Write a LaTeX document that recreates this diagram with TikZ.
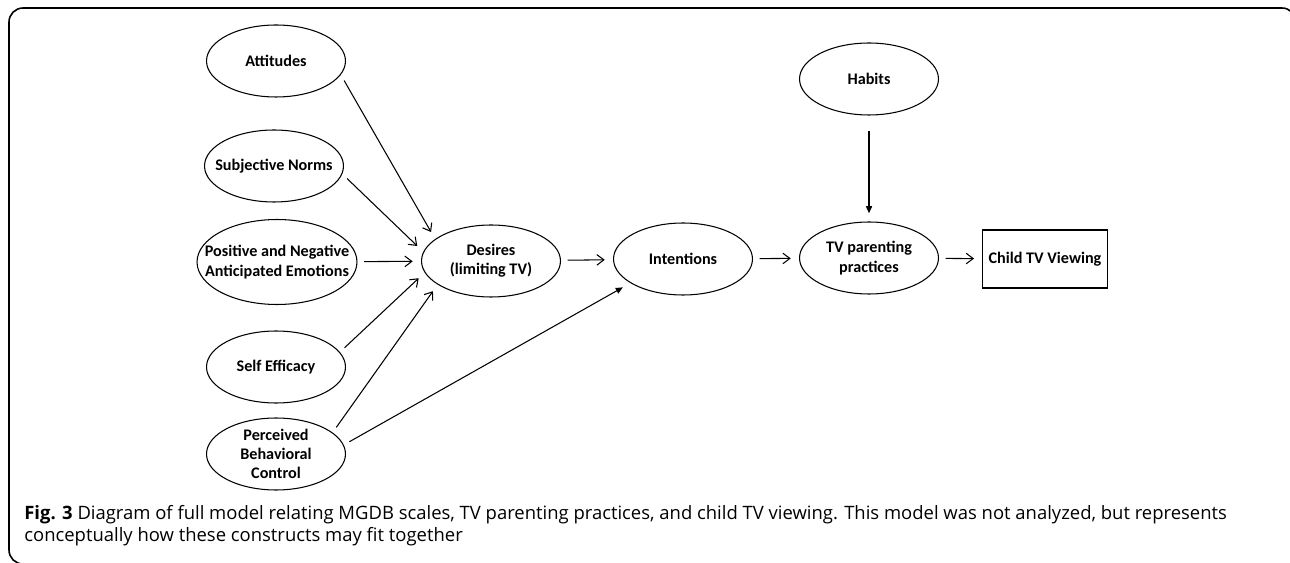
\documentclass[tikz,border=0pt]{standalone}
\usepackage{fontspec}
\setmainfont{Open Sans}
\newfontfamily\ovalfont{Carlito}
\usetikzlibrary{positioning}
\usetikzlibrary{shapes.geometric}
\usetikzlibrary{arrows.meta}

\begin{document}
\begin{tikzpicture}[x=0.02cm, y=-0.02cm,
  oval/.style={ellipse, draw, line width=0.6pt, minimum width=2.78cm, minimum height=1.44cm, inner sep=0pt, outer sep=3pt},
  every label/.style={font=\ovalfont\bfseries\fontsize{9.2}{11}\selectfont, align=center, inner sep=0pt},
  conn/.style={line width=0.6pt, -{Straight Barb[length=4pt,width=6pt]}, shorten >=2pt, shorten <=1pt},
  tconn/.style={line width=0.6pt, -{Triangle[length=4pt,width=3.5pt]}, shorten >=2pt, shorten <=1pt}]

\useasboundingbox (0,0) rectangle (1290,563);
\clip (0,0) rectangle (1290,563);

% frame
\draw[line width=0.9pt, rounded corners=8] (1296,30) -- (1296,8) -- (9,8) -- (9,564) -- (30,564);

% left column
\node[oval, label={center:Attitudes}] (att) at (276,61) {};
\node[oval, label={center:Subjective Norms}] (sub) at (274,166) {};
\node[oval, minimum width=3.2cm, minimum height=1.7cm, label={center:{Positive and Negative\\Anticipated Emotions}}] (emo) at (277,262) {};
\node[oval, label={center:Self Efficacy}] (eff) at (276,367) {};
\node[oval, label={center:{Perceived\\Behavioral\\Control}}] (pbc) at (276,454) {};

% middle row
\node[oval, label={center:{Desires\\(limiting TV)}}] (des) at (491,261) {};
\node[oval, label={center:Intentions}] (int) at (683,259) {};
\node[oval, label={center:{TV parenting\\practices}}] (tvp) at (869,258) {};
\node[oval, label={center:Habits}] (hab) at (869,79) {};
\node[draw, line width=0.6pt, minimum width=2.42cm, minimum height=1.16cm, outer sep=3pt,
  font=\ovalfont\bfseries\fontsize{9.2}{11}\selectfont] (view) at (1045,259) {Child TV Viewing};

% arrows
\draw[conn] (att.-15) -- (des.156);
\draw[conn] (sub.-9) -- (des.170);
\draw[conn] (emo) -- (des);
\draw[conn] (eff.15) -- (des.192);
\draw[conn] (pbc.23) -- (des.206);
\draw[tconn] (pbc.9) -- (int.205);
\draw[conn] (des) -- (int);
\draw[conn] (int) -- (tvp);
\draw[conn] (tvp) -- (view);
\draw[tconn, shorten <=6pt] (hab) -- (tvp);

\node[anchor=north west, align=left, inner sep=0pt, font=\fontsize{10.5}{12.4}\selectfont] (cap) at (24,505)
{\textbf{Fig. 3} Diagram of full model relating MGDB scales, TV parenting practices, and child TV viewing. This model was not analyzed, but represents\\conceptually how these constructs may fit together};

\end{tikzpicture}
\end{document}
